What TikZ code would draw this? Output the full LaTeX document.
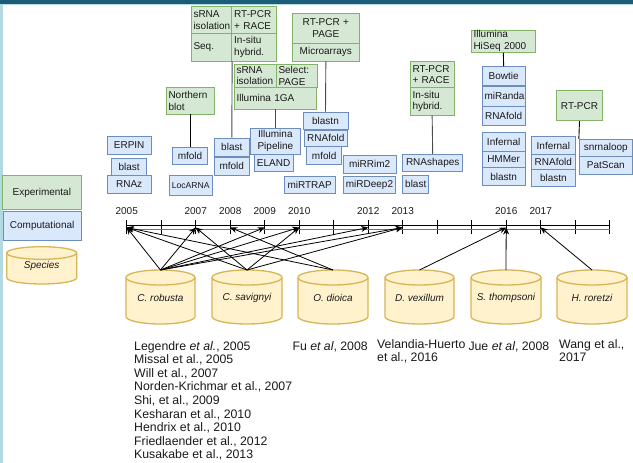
\documentclass[tikz,border=0pt]{standalone}
\usepackage{fontspec}
\setmainfont{Liberation Sans}
\usetikzlibrary{arrows.meta}
\definecolor{gfill}{HTML}{D5E8D4}\definecolor{gline}{HTML}{82B366}
\definecolor{bfill}{HTML}{DAE8FC}\definecolor{bline}{HTML}{6C8EBF}
\definecolor{yfill}{HTML}{FFF2CC}\definecolor{yline}{HTML}{D6B656}
\definecolor{topbar}{HTML}{1B5C78}\definecolor{sidebar}{HTML}{B3DAE2}
\definecolor{txt}{HTML}{1A1A1A}
\newcommand{\mybox}[7]{%
 \pgfmathsetmacro\bxw{#5-#3}%
 \pgfmathsetmacro\bxh{#6-#4}%
 \pgfmathsetmacro\bxcx{(#3+#5)/2}%
 \pgfmathsetmacro\bxcy{(#4+#6)/2}%
 \pgfmathsetmacro\bxtw{#5-#3-5}%
 \node[#1, minimum width=\bxw pt, minimum height=\bxh pt, text width=\bxtw pt] (#2) at (\bxcx,\bxcy) {#7};}
\newcommand{\mycyl}[7]{%
 \pgfmathsetmacro\cyrx{(#3-#2)/2}%
 \pgfmathsetmacro\cycx{(#2+#3)/2}%
 \pgfmathsetmacro\cyry{#7}%
 \pgfmathsetmacro\cyta{#4+#7}%
 \pgfmathsetmacro\cybb{#5-#7}%
 \pgfmathsetmacro\cycy{(#4+#5)/2+1}%
 \path[cyl] (#2,\cyta) -- (#2,\cybb) arc[start angle=180,end angle=0,x radius=\cyrx,y radius=\cyry] -- (#3,\cyta) arc[start angle=0,end angle=-180,x radius=\cyrx,y radius=\cyry] -- cycle;
 \draw[cyl,fill=none] (#2,\cyta) arc[start angle=180,end angle=0,x radius=\cyrx,y radius=\cyry];
 \node[font=\fontsize{10}{12}\selectfont\itshape, text=txt] (#1) at (\cycx,\cycy) {#6};
 \coordinate (#1top) at (\cycx,#4);}
\begin{document}
\begin{tikzpicture}[x=1pt,y=-1pt,
 gbox/.style={draw=gline, fill=gfill, line width=0.9pt, rectangle, inner xsep=2.5pt, inner ysep=0pt, font=\fontsize{10}{11.5}\selectfont, text=txt},
 bbox/.style={draw=bline, fill=bfill, line width=0.9pt, rectangle, inner xsep=2.5pt, inner ysep=0pt, font=\fontsize{10}{11.5}\selectfont, text=txt, align=center},
 lft/.style={align=left}, ctr/.style={align=center},
 link/.style={draw=black, line width=0.9pt},
 glink/.style={draw=black!70, line width=0.9pt},
 arr/.style={-{Stealth[length=7pt,width=6pt]}, line width=0.8pt, black},
 cyl/.style={draw=yline, fill=yfill, line width=1.3pt},
 year/.style={font=\fontsize{10}{12}\selectfont, text=txt, inner sep=0pt},
 cite/.style={font=\fontsize{12.3}{13.6}\selectfont, text=txt, align=left, anchor=north west, inner sep=0pt}]
\useasboundingbox (0,0) rectangle (633,463);
% frame
\fill[white] (0,0) rectangle (633,463);
\fill[sidebar] (0,0) rectangle (2.5,463);
\fill[topbar] (0,0) rectangle (633,4);
\fill[sidebar] (0,4) rectangle (633,5.3);

% legend
\mybox{gbox,ctr}{expl}{2.7}{175.7}{81}{209.3}{Experimental}
\mybox{bbox}{comp}{3.3}{211.7}{81}{240}{Computational}
\mycyl{legsp}{6.7}{76.7}{246.7}{284}{Species}{6.3}

% experimental boxes
\mybox{gbox,lft}{srnaA}{191}{6.5}{231.7}{33.3}{sRNA\\isolation}
\mybox{gbox,lft}{rtpcrA}{231.7}{6.5}{276.3}{33.3}{RT-PCR\\+ RACE}
\mybox{gbox,lft}{seq}{191}{33.3}{231.7}{61}{Seq.}
\mybox{gbox,lft}{insituA}{231.7}{33.3}{276.3}{61}{In-situ\\hybrid.}
\mybox{gbox,lft}{srnaB}{234}{64.3}{276}{87.3}{sRNA\\isolation}
\mybox{gbox,lft}{select}{276}{64.3}{317}{87.3}{Select:\\PAGE}
\mybox{gbox,lft}{illga}{234}{87.3}{316.7}{109}{Illumina 1GA}
\mybox{gbox,ctr}{rtpage}{292.7}{13.3}{359}{43.3}{RT-PCR +\\PAGE}
\mybox{gbox,ctr}{micro}{292.7}{43.3}{359}{61}{Microarrays}
\mybox{gbox,lft}{nblot}{166}{87.7}{214}{114}{Northern\\ blot}
\mybox{gbox,lft}{rtpcrB}{410}{61}{454.3}{87.7}{RT-PCR\\+ RACE}
\mybox{gbox,lft}{insituB}{410}{87.7}{454.3}{115}{In-situ\\hybrid.}
\mybox{gbox,lft}{hiseq}{471}{30}{535.7}{52.3}{Illumina\\HiSeq 2000}
\mybox{gbox,ctr}{rtpcrC}{556.7}{90.7}{602.3}{120.7}{RT-PCR}

% computational boxes
\mybox{bbox}{erpin}{107.3}{136}{151}{154}{ERPIN}
\mybox{bbox}{blastL}{111.7}{158.3}{146.7}{175}{blast}
\mybox{bbox}{rnaz}{107.3}{175.7}{151}{193.3}{RNAz}
\mybox{bbox}{mfoldL}{172.7}{147.7}{207.3}{164.3}{mfold}
\mybox{bbox,font=\fontsize{8.6}{10}\selectfont}{locarna}{169}{175.7}{212.3}{195}{LocARNA}
\mybox{bbox}{blastA}{214.3}{138}{249.3}{156.7}{blast}
\mybox{bbox}{mfoldA}{214.3}{157.3}{249.3}{175}{mfold}
\mybox{bbox}{illpipe}{250.7}{128}{300}{154.3}{Illumina\\Pipeline}
\mybox{bbox}{eland}{254}{154.3}{293.3}{171}{ELAND}
\mybox{bbox}{blastnA}{303}{112}{348}{129.7}{blastn}
\mybox{bbox}{rnafoldA}{304}{130.7}{347.7}{146}{RNAfold}
\mybox{bbox}{mfoldB}{306.7}{146.7}{341.7}{164.3}{mfold}
\mybox{bbox}{mirrim}{343.3}{155}{396}{173.3}{miRRim2}
\mybox{bbox}{mirtrap}{284.3}{176}{335}{193.3}{miRTRAP}
\mybox{bbox}{mirdeep}{343.3}{176}{395.7}{193.3}{miRDeep2}
\mybox{bbox}{rnashapes}{402.7}{154.3}{462.7}{171.7}{RNAshapes}
\mybox{bbox}{blastB}{402.7}{175}{428.7}{193.3}{blast}
\mybox{bbox}{bowtie}{482}{66.7}{525.3}{85.3}{Bowtie}
\mybox{bbox}{miranda}{482}{86.3}{525.3}{106.3}{miRanda}
\mybox{bbox}{rnafoldB}{482}{106.3}{525.3}{125.3}{RNAfold}
\mybox{bbox}{infernalA}{482}{132.7}{525.3}{151.3}{Infernal}
\mybox{bbox}{hmmer}{482}{151.3}{525.3}{167.7}{HMMer}
\mybox{bbox}{blastnB}{482}{167.7}{525.3}{185.7}{blastn}
\mybox{bbox}{infernalB}{531.7}{136.7}{575}{154.3}{Infernal}
\mybox{bbox}{rnafoldC}{531.7}{154.3}{575}{169.3}{RNAfold}
\mybox{bbox}{blastnC}{531.7}{169.3}{575}{186.7}{blastn}
\mybox{bbox}{snrna}{579.3}{139.3}{632.3}{156}{snrnaloop}
\mybox{bbox}{patscan}{579.3}{156}{632.3}{174}{PatScan}

% links
\draw[glink] (seq.south east) -- (blastA.north);
\draw[glink] (illga.south) -- (illpipe.north);
\draw[glink] (micro.south) -- (blastnA.north);
\draw[link] (nblot.south) -- (mfoldL.north);
\draw[glink] (insituB.south) -- (rnashapes.north);
\draw[link] (hiseq.south) -- (bowtie.north);
\draw[link] (rtpcrC.south) -- (snrna.north west);

% timeline
\foreach \i in {0,...,14} \draw[line width=0.8pt] (126.7+\i*34.5,220) -- (126.7+\i*34.5,234);
\draw[line width=0.9pt] (126.7,225) -- (609.7,225);
\draw[line width=0.9pt, black!55] (126.7,229.5) -- (609.7,229.5);
\foreach \y/\i in {2005/0,2007/2,2008/3,2009/4,2010/5,2012/7,2013/8,2016/11,2017/12}{
  \node[year] (y\y) at (126.7+\i*34.5,210.7) {\y};
  \coordinate (t\y) at (126.7+\i*34.5,227.5);
}

% species
\mycyl{rob}{126}{195}{270}{324}{C. robusta}{7.5}
\mycyl{sav}{212}{282}{270}{324}{C. savignyi}{7.5}
\mycyl{dio}{298}{368}{270}{324}{O. dioica}{7.5}
\mycyl{dve}{385}{454}{270}{324}{D. vexillum}{7.5}
\mycyl{sth}{471}{541}{270}{324}{S. thompsoni}{7.5}
\mycyl{hro}{557}{627}{270}{324}{H. roretzi}{7.5}

% arrows
\foreach \t in {2005,2007,2009,2010,2012,2013} \draw[arr] (robtop) -- (t\t);
\foreach \t in {2005,2007,2010,2013} \draw[arr] (savtop) -- (t\t);
\draw[arr] (diotop) -- (t2005);
\draw[arr] (diotop) -- (t2008);
\draw[arr] (dvetop) -- (t2016);
\draw[arr] (sthtop) -- (t2016);
\draw[arr] (hrotop) -- (t2017);

% citations
\node[cite] (cRob) at (134,341) {Legendre \textit{et al.}, 2005\\Missal et al., 2005\\Will et al., 2007\\Norden-Krichmar et al., 2007\\Shi, et al., 2009\\Kesharan et al., 2010\\Hendrix et al., 2010\\Friedlaender et al., 2012\\Kusakabe et al., 2013};
\node[cite] (cDio) at (292.3,341) {Fu \textit{et al}, 2008};
\node[cite] (cDve) at (377,339) {Velandia-Huerto\\et al., 2016};
\node[cite] (cSth) at (468.3,341) {Jue \textit{et al}, 2008};
\node[cite] (cHro) at (559,339) {Wang et al.,\\2017};
\end{tikzpicture}
\end{document}
